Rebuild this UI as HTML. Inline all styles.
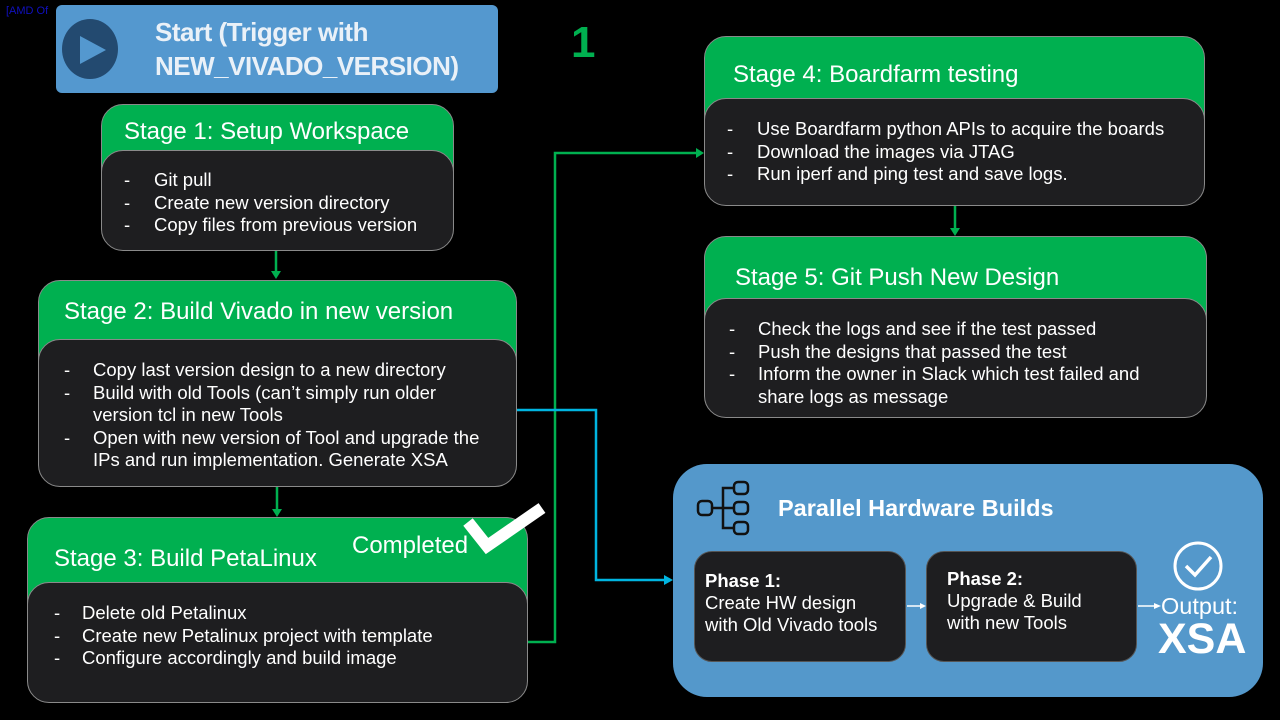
<!DOCTYPE html>
<html><head><meta charset="utf-8"><style>
body{margin:0;width:1280px;height:720px;background:#000;position:relative;overflow:hidden;font-family:"Liberation Sans",Arial,sans-serif;color:#fff}
.a{position:absolute}
.g{position:absolute;background:#00b050;border-radius:22px;border:1px solid #8a8a8a;box-sizing:border-box}
.d{position:absolute;background:#1e1e20;border-radius:22px;border:1px solid #8a8a8a;box-sizing:border-box}
.h{position:absolute;font-size:24px;white-space:nowrap}
ul{list-style:none;margin:0;padding:0;position:absolute;font-size:18.5px;line-height:22.5px}
li{position:relative;padding-left:56px}
li:before{content:"-";position:absolute;left:0}
.p{position:absolute;background:#1e1e20;border-radius:18px;border:1px solid #555;box-sizing:border-box;font-size:18.5px;line-height:22px;padding:18px 10px}
</style></head><body>
<div class="a" style="left:6px;top:5px;font-size:11px;color:#1010c0">[AMD Of</div>
<div class="a" style="left:56px;top:5px;width:442px;height:88px;background:#5498cf;border-radius:6px"></div>
<div class="a" style="left:62px;top:19px;width:56px;height:60px;border-radius:50%;background:#234a70"></div>
<svg class="a" style="left:80px;top:36px" width="30" height="30"><polygon points="0,0 26,14 0,28" fill="#5498cf"/></svg>
<div class="a" style="left:155px;top:15px;font-size:26px;line-height:34px;font-weight:bold;color:#eaf1f8;letter-spacing:-0.5px">Start (Trigger with<br>NEW_VIVADO_VERSION)</div>
<div class="a" style="left:571px;top:18px;font-size:44px;font-weight:bold;color:#00b050">1</div>

<svg class="a" style="left:0;top:0" width="1280" height="720">
<g stroke="#00b050" stroke-width="2.5" fill="none">
<line x1="276" y1="251" x2="276" y2="273"/><line x1="277" y1="487" x2="277" y2="511"/>
<polyline points="528,642 555,642 555,153 697,153"/>
<line x1="955" y1="206" x2="955" y2="230"/></g>
<g fill="#00b050"><polygon points="271,271 281,271 276,279"/><polygon points="272,509 282,509 277,517"/><polygon points="696,148 704,153 696,158"/><polygon points="950,228 960,228 955,236"/></g>
<g stroke="#00b4e0" stroke-width="2.5" fill="none"><polyline points="517,410 596,410 596,580 666,580"/></g>
<polygon points="664,575 673,580 664,585" fill="#00b4e0"/>
</svg>

<div class="g" style="left:101px;top:104px;width:353px;height:100px"></div>
<div class="h" style="left:124px;top:118px">Stage 1: Setup Workspace</div>
<div class="d" style="left:101px;top:150px;width:353px;height:101px"></div>
<ul style="left:124px;top:169px"><li style="padding-left:30px">Git pull</li><li style="padding-left:30px">Create new version directory</li><li style="padding-left:30px">Copy files from previous version</li></ul>

<div class="g" style="left:38px;top:280px;width:479px;height:120px"></div>
<div class="h" style="left:64px;top:298px">Stage 2: Build Vivado in new version</div>
<div class="d" style="left:38px;top:339px;width:479px;height:148px"></div>
<ul style="left:64px;top:359px;width:420px"><li style="padding-left:29px">Copy last version design to a new directory</li><li style="padding-left:29px">Build with old Tools (can’t simply run older version tcl in new Tools</li><li style="padding-left:29px">Open with new version of Tool and upgrade the IPs and run implementation. Generate XSA</li></ul>

<div class="g" style="left:27px;top:517px;width:501px;height:120px"></div>
<div class="h" style="left:54px;top:545px">Stage 3: Build PetaLinux</div>
<div class="a" style="left:352px;top:532px;font-size:24px">Completed</div>
<svg class="a" style="left:460px;top:498px" width="90" height="62"><polyline points="8,24 27,48 82,10" stroke="#fff" stroke-width="12" fill="none"/></svg>
<div class="d" style="left:27px;top:582px;width:501px;height:121px"></div>
<ul style="left:54px;top:602px"><li style="padding-left:28px">Delete old Petalinux</li><li style="padding-left:28px">Create new Petalinux project with template</li><li style="padding-left:28px">Configure accordingly and build image</li></ul>

<div class="g" style="left:704px;top:36px;width:501px;height:120px"></div>
<div class="h" style="left:733px;top:61px">Stage 4: Boardfarm testing</div>
<div class="d" style="left:704px;top:98px;width:501px;height:108px"></div>
<ul style="left:727px;top:118px"><li style="padding-left:30px">Use Boardfarm python APIs to acquire the boards</li><li style="padding-left:30px">Download the images via JTAG</li><li style="padding-left:30px">Run iperf and ping test and save logs.</li></ul>

<div class="g" style="left:704px;top:236px;width:503px;height:120px"></div>
<div class="h" style="left:735px;top:264px">Stage 5: Git Push New Design</div>
<div class="d" style="left:704px;top:298px;width:503px;height:120px"></div>
<ul style="left:729px;top:318px;width:440px"><li style="padding-left:29px">Check the logs and see if the test passed</li><li style="padding-left:29px">Push the designs that passed the test</li><li style="padding-left:29px">Inform the owner in Slack which test failed and share logs as message</li></ul>

<div class="a" style="left:673px;top:464px;width:590px;height:233px;background:#5498cb;border-radius:34px"></div>
<svg class="a" style="left:695px;top:480px" width="60" height="60" fill="none" stroke="#111" stroke-width="2.5">
<rect x="3" y="21" width="14" height="14" rx="4"/><rect x="39" y="2" width="14" height="12" rx="4"/><rect x="39" y="22" width="14" height="12" rx="4"/><rect x="39" y="42" width="14" height="12" rx="4"/>
<polyline points="17,28 39,28"/><polyline points="39,8 28,8 28,48 39,48"/></svg>
<div class="a" style="left:778px;top:495px;font-size:23.5px;font-weight:bold">Parallel Hardware Builds</div>
<div class="p" style="left:694px;top:551px;width:212px;height:111px"><b>Phase 1:</b><br>Create HW design<br>with Old Vivado tools</div>
<div class="p" style="left:926px;top:551px;width:211px;height:111px;padding-left:20px;padding-top:16px"><b>Phase 2:</b><br>Upgrade &amp; Build<br>with new Tools</div>
<svg class="a" style="left:900px;top:595px" width="270" height="20"><g stroke="#fff" stroke-width="1.5"><line x1="7" y1="11" x2="22" y2="11"/><line x1="238" y1="11" x2="256" y2="11"/></g><polygon points="20,8 26,11 20,14" fill="#fff"/><polygon points="254,8 261,11 254,14" fill="#fff"/></svg>
<svg class="a" style="left:1170px;top:538px" width="56" height="56"><circle cx="28" cy="28" r="23" stroke="#fff" stroke-width="3" fill="none"/><polyline points="16,28 25,37 41,19" stroke="#fff" stroke-width="3.5" fill="none"/></svg>
<div class="a" style="left:1161px;top:593px;font-size:23.5px">Output:</div>
<div class="a" style="left:1158px;top:615px;font-size:43px;font-weight:bold">XSA</div>
</body></html>
